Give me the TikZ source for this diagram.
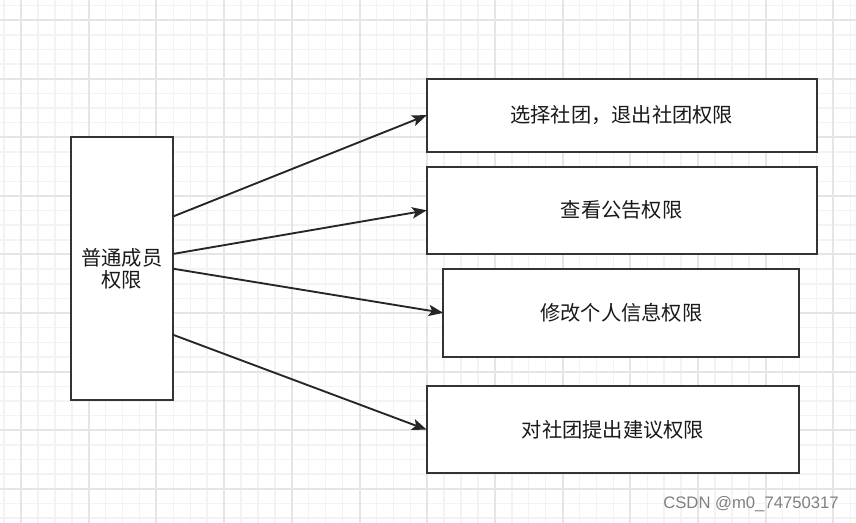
\documentclass[tikz,border=0pt]{standalone}
\usepackage{fontspec}
\newfontfamily\cjk{Noto Sans CJK SC}
\newfontfamily\wm{Liberation Sans}
\usetikzlibrary{arrows.meta}
\definecolor{gridmaj}{HTML}{E5E5E5}
\definecolor{gridmin}{HTML}{F3F3F3}
\definecolor{edge}{HTML}{333333}
\tikzset{
  box/.style={draw=edge, line width=1.4pt, fill=white, inner sep=0pt, outer sep=0pt,
    font=\cjk\fontsize{15.2}{16.5}\selectfont, text=black!90, align=center},
  conn/.style={draw=black!85, line width=1.4pt, -{Stealth[length=11pt,width=8.5pt,inset=2.5pt]}},
}
\begin{document}
\begin{tikzpicture}[x=0.75pt,y=-0.75pt]
\fill[white] (0,0) rectangle (856,523);
\useasboundingbox (0,0) rectangle (856,523);
% minor grid
\foreach \i in {0,...,50} \draw[gridmin, line width=1.1pt] ({4.08+16.925*\i},0) -- ({4.08+16.925*\i},523);
\foreach \j in {0,...,35} \draw[gridmin, line width=1.1pt] (0,{5.66+14.6375*\j}) -- (856,{5.66+14.6375*\j});
% major grid
\foreach \i in {0,...,12} \draw[gridmaj, line width=1.5pt] ({21+67.7*\i},0) -- ({21+67.7*\i},523);
\foreach \j in {0,...,8} \draw[gridmaj, line width=1.5pt] (0,{20.3+58.55*\j}) -- (856,{20.3+58.55*\j});
% boxes
\node[box, minimum width=76.3pt, minimum height=197pt] (m) at (121.85,268.65) {普通成员\\权限};
\node[box, minimum width=292.5pt, minimum height=54.75pt] (b1) at (621.7,115.2) {选择社团，退出社团权限};
\node[box, minimum width=292.5pt, minimum height=65.5pt] (b2) at (621.7,210.35) {查看公告权限};
\node[box, minimum width=267pt, minimum height=65.8pt] (b3) at (621.3,312.85) {修改个人信息权限};
\node[box, minimum width=279.5pt, minimum height=65.5pt] (b4) at (613,429.65) {对社团提出建议权限};
% connectors
\draw[conn] ([yshift=39pt]m.east) -- (b1.west);
\draw[conn] ([yshift=11pt]m.east) -- (b2.west);
\draw[conn] (m.east) -- (b3.west);
\draw[conn] ([yshift=-49.5pt]m.east) -- (b4.west);
% watermark
\node[font=\wm\fontsize{12.5}{14}\selectfont, text=black!50, inner sep=0pt] (wmk) at (751,504) {CSDN @m0\_74750317};
\end{tikzpicture}
\end{document}
